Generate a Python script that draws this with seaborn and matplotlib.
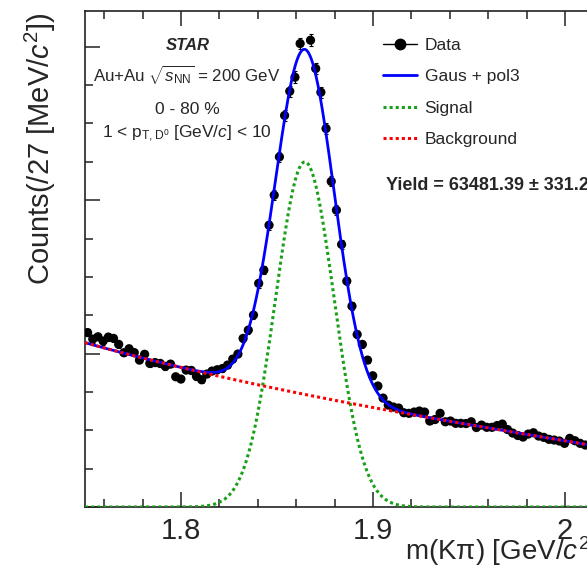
import numpy as np
import pandas as pd
import matplotlib
matplotlib.use("Agg")
import matplotlib.pyplot as plt
from matplotlib.lines import Line2D
from matplotlib.ticker import MultipleLocator, FixedLocator, FixedFormatter, NullFormatter
import seaborn as sns

# ---- invariant-mass histogram (counts per 2.7 MeV bin, starting at 1.75 GeV) ----
mass_lo = 1.75
bin_width = 0.0027
counts = [
    2274, 2189, 2219, 2163, 2215, 2198, 2120, 2011, 2063, 2013,
    1915, 1991, 1872, 1883, 1872, 1833, 1863, 1698, 1668, 1785,
    1781, 1703, 1659, 1733, 1772, 1789, 1805, 1850, 1928, 1994,
    2198, 2306, 2502, 2915, 3088, 3674, 4065, 4564, 5104, 5420,
    5603, 6042, np.nan, 6085, 5716, 5407, 4934, 4244, 3870, 3423,
    2945, 2619, 2250, 2120, 1915, 1711, 1577, 1420, 1329, 1303,
    1290, 1229, 1221, 1238, 1251, 1238, 1121, 1140, 1221, 1111,
    1121, 1091, 1091, 1088, 1111, 1036, 1068, 1039, 1039, 1062,
    1081, 1010, 964, 932, 912, 951, 968, 925, 908, 882,
    873, 860, 830, 895, 864, 830, 808,
]

# ---- fit: Gaussian signal + 3rd-order polynomial background ----
signal_yield = 63481.39
yield_err = 331.2
peak_mean = 1.8645
peak_sigma = 0.0152
bkg_pivot = 1.865
bkg_coeffs = [1465.0, -5000.0, 6000.0, -15000.0]

x_range = (1.75, 2.05)
y_range = (0, 6470)

counts = np.array(counts, dtype=float)
centers = mass_lo + (np.arange(len(counts)) + 0.5) * bin_width
data = pd.DataFrame({"mass": centers, "counts": counts}).dropna()
data["err"] = np.sqrt(data["counts"])

grid = np.linspace(*x_range, 800)
amp = signal_yield * bin_width / (peak_sigma * np.sqrt(2 * np.pi))
sig = amp * np.exp(-0.5 * ((grid - peak_mean) / peak_sigma) ** 2)
t = grid - bkg_pivot
bkg = sum(c * t ** k for k, c in enumerate(bkg_coeffs))
curves = pd.DataFrame({"mass": grid, "total": sig + bkg, "signal": sig, "bkg": bkg})

# ---- style ----
sns.set_theme(style="ticks")
FONT = "Liberation Sans"
plt.rcParams["font.family"] = [FONT, "DejaVu Sans"]
plt.rcParams["mathtext.fontset"] = "custom"
plt.rcParams["mathtext.rm"] = FONT
plt.rcParams["mathtext.it"] = FONT + ":italic"
plt.rcParams["mathtext.bf"] = FONT + ":bold"

W, H = 587, 566
fig = plt.figure(figsize=(W / 100, H / 100), dpi=100)

def fx(px):
    return px / W

def fy(py):
    return 1 - py / H

ax_left, ax_top, ax_bottom = 85, 10.7, 507
ax_width_px = (x_range[1] - x_range[0]) * 1920
ax = fig.add_axes([fx(ax_left), fy(ax_bottom), ax_width_px / W, (ax_bottom - ax_top) / H])

GREEN = "#18a018"
ax.errorbar(data["mass"], data["counts"], yerr=data["err"], fmt="none",
            ecolor="black", elinewidth=0.8, capsize=1.6, capthick=0.8, zorder=2)
sns.scatterplot(data=data, x="mass", y="counts", ax=ax, color="black", s=44,
                edgecolor="none", zorder=3)
sns.lineplot(data=curves, x="mass", y="total", ax=ax, color="#0000ff", lw=2.0, zorder=4)
sns.lineplot(data=curves, x="mass", y="signal", ax=ax, color=GREEN, lw=2.2,
             linestyle=(0, (1, 1)), zorder=5)
sns.lineplot(data=curves, x="mass", y="bkg", ax=ax, color="#ff0000", lw=2.2,
             linestyle=(0, (1, 1)), zorder=6)

ax.set_xlim(*x_range)
ax.set_ylim(*y_range)
ax.set_xlabel("")
ax.set_ylabel("")

ax.xaxis.set_major_locator(FixedLocator([1.8, 1.9, 2.0]))
ax.xaxis.set_major_formatter(FixedFormatter(["1.8", "1.9", "2"]))
ax.xaxis.set_minor_locator(MultipleLocator(0.02))
ax.yaxis.set_major_locator(MultipleLocator(2000))
ax.yaxis.set_minor_locator(MultipleLocator(500))
ax.yaxis.set_major_formatter(NullFormatter())
ax.tick_params(which="both", direction="in", top=True, right=True, color="#222222", width=1.1)
ax.tick_params(which="major", length=10.8, labelsize=21, pad=7.5)
ax.tick_params(which="minor", length=5.8)
for s in ax.spines.values():
    s.set_linewidth(1.2)
    s.set_color("#222222")

# axis titles
fig.text(fx(40), fy(12), "Counts(/27 [MeV/$\\it{c}^{2}$])", rotation=90,
         ha="center", va="top", fontsize=21)
fig.text(fx(405), fy(551), "m(K\u03c0) [GeV/$\\it{c}^{2}$]", ha="left", va="center",
         fontsize=20)

# annotations
fig.text(fx(188), fy(46), "STAR", ha="center", va="center", fontsize=12,
         fontweight="bold", fontstyle="italic")
fig.text(fx(187), fy(75), "Au+Au $\\sqrt{s_{\\rm NN}}$ = 200 GeV", ha="center",
         va="center", fontsize=12.2)
fig.text(fx(187), fy(109), "0 - 80 %", ha="center", va="center", fontsize=12.5)
fig.text(fx(187), fy(134), "1 < $\\rm p_{T,D^{0}}$ [GeV/$\\it{c}$] < 10", ha="center",
         va="center", fontsize=12.5)
fig.text(fx(386), fy(186), f"Yield = {signal_yield:.2f} \u00b1 {yield_err:.1f}",
         ha="left", va="center", fontsize=13, fontweight="bold")

handles = [
    Line2D([], [], color="black", lw=1.0, marker="o", markersize=7.5),
    Line2D([], [], color="#0000ff", lw=2.0),
    Line2D([], [], color=GREEN, lw=2.2, linestyle=(0, (1, 1))),
    Line2D([], [], color="#ff0000", lw=2.2, linestyle=(0, (1, 1))),
]
labels = ["Data", "Gaus + pol3", "Signal", "Background"]
fig.legend(handles, labels, loc="upper left", bbox_to_anchor=(fx(383), fy(38)),
           frameon=False, fontsize=12.5, handlelength=1.95, handletextpad=0.45,
           labelspacing=0.93, borderpad=0, borderaxespad=0)

fig.savefig("out.png", dpi=100)
